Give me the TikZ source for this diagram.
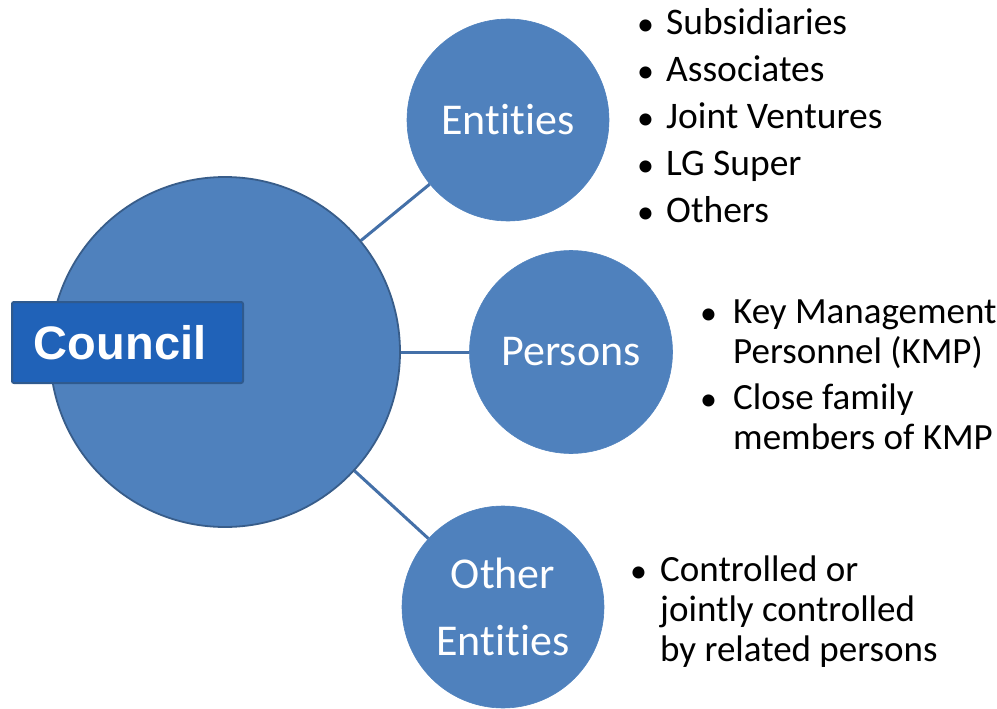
\documentclass[tikz,border=0pt]{standalone}
\usepackage{fontspec}
\setmainfont{Carlito}[Ligatures=NoCommon]
\setsansfont{Liberation Sans}
\definecolor{bubbleblue}{HTML}{4F81BD}
\definecolor{hubedge}{HTML}{385D8A}
\definecolor{linkblue}{HTML}{4470A8}
\definecolor{boxblue}{HTML}{2062B8}
\definecolor{boxedge}{HTML}{2F5A8E}
\newcommand{\dotitem}[1][29pt]{\makebox[#1][l]{\raisebox{-1pt}{\fontsize{34}{34}\selectfont\textbullet}}}

\begin{document}
\begin{tikzpicture}[x=1pt,y=-1pt,
    every node/.style={inner sep=0pt},
    bubble/.style={circle,fill=bubbleblue,draw=bubbleblue,line width=0.6pt,
      text=white,align=center,font=\fontsize{44}{67}\selectfont},
    hub/.style={bubble,draw=hubedge,line width=1.8pt},
    link/.style={draw=linkblue,line width=3pt},
    points/.style={anchor=base west,font=\fontsize{37.5}{47}\selectfont}
  ]
  \useasboundingbox (0,0) rectangle (997,709);

  % centre and the three groups
  \node[hub,minimum size=350pt] (council) at (225,352) {};
  \node[bubble,minimum size=202pt] (entities) at (508,120) {Entities};
  \node[bubble,minimum size=203pt] (persons) at (571,352) {Persons};
  \node[bubble,minimum size=202pt] (others) at (503,607) {Other\\Entities};

  \draw[link] (council) -- (entities);
  \draw[link] (council) -- (persons);
  \draw[link] (council) -- (others);

  \node[fill=boxblue,draw=boxedge,line width=2pt,rounded corners=2pt,
    minimum height=81pt,inner xsep=22pt,text width=187pt,align=left,
    text=white,font=\sffamily\bfseries\fontsize{47}{50}\selectfont]
    (councilbox) at (127.5,342.5) {Council};

  % bullet lists
  \node[points] (entlist) at (637,35) {\begin{tabular}[t]{@{}l@{}}
      \dotitem Subsidiaries\\
      \dotitem Associates\\
      \dotitem Joint Ventures\\
      \dotitem LG Super\\
      \dotitem Others
    \end{tabular}};
  \node[points,font=\fontsize{37}{40}\selectfont] (perslist) at (700,323) {\begin{tabular}[t]{@{}l@{}l@{}}
      \dotitem[33pt] & Key Management\\
      & Personnel (KMP)\\[6pt]
      \dotitem[33pt] & Close family\\
      & members of KMP
    \end{tabular}};
  \node[points,font=\fontsize{37}{40}\selectfont] (othlist) at (630,581) {\begin{tabular}[t]{@{}l@{}l@{}}
      \dotitem[30pt] & Controlled or\\
      & jointly controlled\\
      & by related persons
    \end{tabular}};
\end{tikzpicture}
\end{document}
